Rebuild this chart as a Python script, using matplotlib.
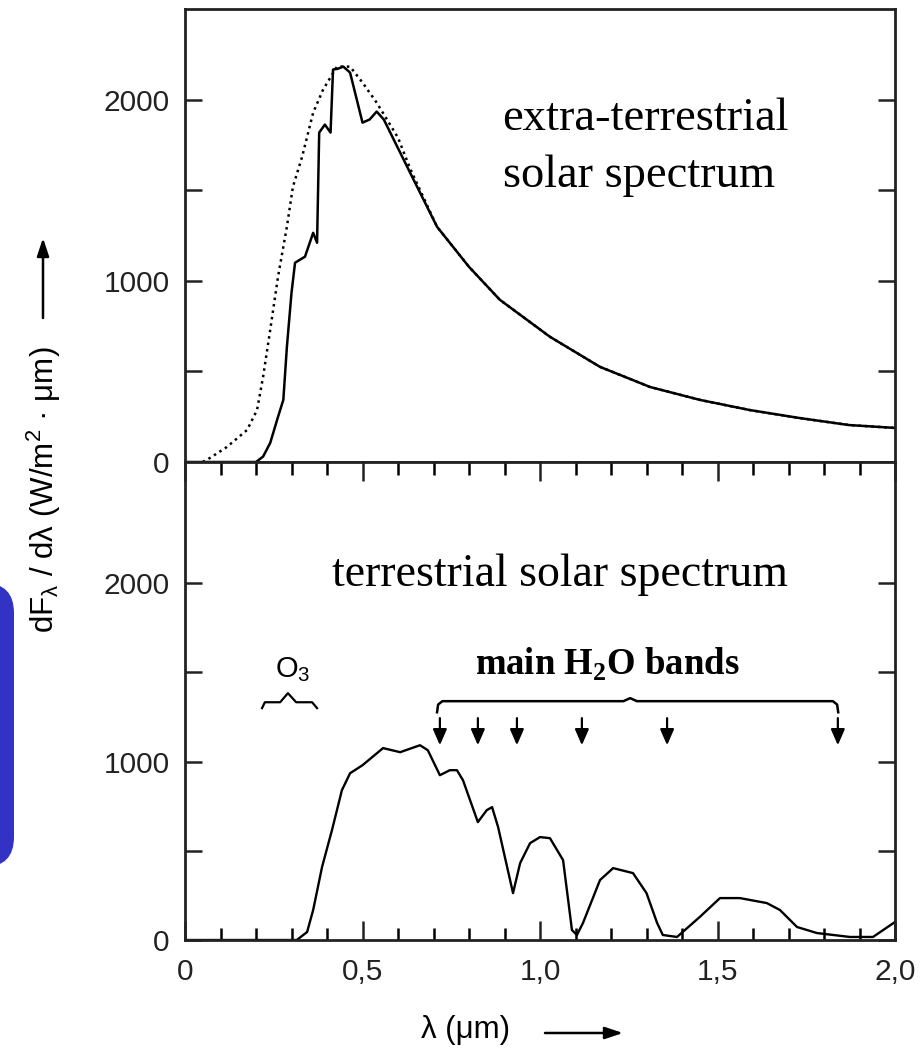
import matplotlib
matplotlib.use("Agg")
import matplotlib.pyplot as plt
from matplotlib.patches import FancyBboxPatch
from matplotlib.transforms import IdentityTransform

plt.rcParams['font.family'] = ['Liberation Sans', 'DejaVu Sans']
plt.rcParams['mathtext.fontset'] = 'custom'
plt.rcParams['mathtext.rm'] = 'Liberation Serif'
plt.rcParams['mathtext.bf'] = 'Liberation Serif:bold'
plt.rcParams['mathtext.sf'] = 'Liberation Sans'

# --- extra-terrestrial spectrum (solid) ---
lam_et = [0.0, 0.10, 0.20, 0.22, 0.24, 0.262, 0.277, 0.287, 0.30, 0.31, 0.338, 0.361,
          0.372, 0.378, 0.394, 0.41, 0.417, 0.43, 0.446, 0.465, 0.50, 0.52, 0.54, 0.56,
          0.634, 0.71, 0.80, 0.887, 1.028, 1.169, 1.31, 1.45, 1.59, 1.73, 1.87, 2.0]
F_et = [0, 0, 0, 30, 105, 249, 343, 635, 933, 1100, 1133, 1265,
        1210, 1818, 1862, 1818, 2166, 2170, 2182, 2149, 1873, 1890, 1934, 1890,
        1597, 1298, 1077, 895, 691, 525, 414, 343, 287, 243, 204, 188]

# --- black body reference (dotted) ---
lam_bb = [0.05, 0.07, 0.118, 0.175, 0.203, 0.22, 0.24, 0.262, 0.287, 0.304, 0.33,
          0.361, 0.389, 0.428, 0.465, 0.50, 0.54, 0.60, 0.634, 0.71, 0.80, 0.887,
          1.028, 1.169, 1.31, 1.45, 1.59, 1.73, 1.87, 2.0]
F_bb = [0, 22, 83, 177, 287, 470, 729, 1022, 1298, 1519, 1685,
        1928, 2055, 2182, 2182, 2094, 1983, 1790, 1620, 1298, 1077, 895,
        691, 525, 414, 343, 287, 243, 204, 188]

# --- terrestrial spectrum ---
lam_t = [0.0, 0.30, 0.315, 0.344, 0.361, 0.386, 0.414, 0.442, 0.465, 0.50, 0.558,
         0.606, 0.662, 0.684, 0.718, 0.746, 0.766, 0.783, 0.825, 0.85, 0.865, 0.882,
         0.924, 0.944, 0.972, 1.0, 1.028, 1.065, 1.09, 1.104, 1.121, 1.169, 1.206,
         1.262, 1.30, 1.33, 1.346, 1.386, 1.45, 1.507, 1.563, 1.639, 1.676, 1.724,
         1.78, 1.873, 1.938, 2.0]
F_t = [0, 0, 0, 45, 168, 409, 616, 840, 935, 980, 1076,
       1053, 1092, 1064, 924, 952, 952, 896, 661, 728, 745, 633,
       263, 431, 543, 577, 571, 448, 56, 28, 95, 336, 403,
       375, 263, 95, 28, 17, 129, 235, 235, 207, 168, 73,
       39, 17, 17, 101]

# H2O band positions (arrows) and brace shapes
h2o_bands = [0.718, 0.825, 0.935, 1.118, 1.358, 1.839]
h2o_brace_x = [0.71, 0.713, 0.725, 1.235, 1.254, 1.273, 1.825, 1.837, 1.84]
h2o_brace_y = [1277, 1320, 1339, 1339, 1356, 1339, 1339, 1320, 1277]
o3_brace_x = [0.217, 0.225, 0.268, 0.29, 0.313, 0.358, 0.372]
o3_brace_y = [1300, 1333, 1333, 1384, 1333, 1333, 1300]

x_ticks = [0, 0.5, 1.0, 1.5, 2.0]
x_ticklabels = ['0', '0,5', '1,0', '1,5', '2,0']

W, H = 922, 1048
fig = plt.figure(figsize=(W / 100, H / 100), dpi=100)

left, right = 185, 895
ax1 = fig.add_axes([left / W, 1 - 462 / H, (right - left) / W, 453 / H])
ax2 = fig.add_axes([left / W, 1 - 940 / H, (right - left) / W, 478 / H])

for ax in (ax1, ax2):
    ax.set_xlim(0, 2.0)
    for s in ax.spines.values():
        s.set_linewidth(2.0)
        s.set_color('#222222')
    ax.tick_params(axis='y', which='both', direction='in', left=True, right=True,
                   length=12, width=1.8, labelsize=21.5, pad=11, colors='#222222')

ax1.set_ylim(0, 2500)
ax2.set_ylim(0, 2680)
ax1.set_yticks([0, 1000, 2000])
ax1.set_yticks([500, 1500], minor=True)
ax2.set_yticks([0, 1000, 2000])
ax2.set_yticks([500, 1500], minor=True)
ax1.set_xticks([])
ax1.tick_params(axis='x', which='both', bottom=False, labelbottom=False)

ax2.set_xticks(x_ticks)
ax2.set_xticklabels(x_ticklabels)
ax2.set_xticks([i / 10 for i in range(21)], minor=True)
ax2.tick_params(axis='x', which='major', direction='in', top=True, bottom=True,
                length=14, width=1.8, labelsize=21.5, pad=13, colors='#222222')
ax2.tick_params(axis='x', which='minor', direction='in', top=True, bottom=True,
                length=9, width=1.8)

# curves
ax1.plot(lam_et, F_et, color='black', lw=1.8)
ax1.plot(lam_bb, F_bb, color='black', lw=1.8, linestyle=(0, (1, 1.6)))
ax2.plot(lam_t, F_t, color='black', lw=1.7)

# texts
serif = ['Liberation Serif', 'DejaVu Serif']
ax1.text(0.893, 1832, 'extra-terrestrial', family=serif, fontsize=33.5, va='baseline')
ax1.text(0.895, 1518, 'solar spectrum', family=serif, fontsize=33.5, va='baseline')
ax2.text(0.414, 1985, 'terrestrial solar spectrum', family=serif, fontsize=33,
         va='baseline')
ax2.text(0.817, 1486, r'main H$_\mathbf{2}$O bands', family=serif, fontsize=26.5,
         fontweight='bold', va='baseline')
ax2.text(0.254, 1475, r'O$_\mathsf{3}$', fontsize=21, va='baseline')

# braces
ax2.plot(h2o_brace_x, h2o_brace_y, color='black', lw=1.8)
ax2.plot(o3_brace_x, o3_brace_y, color='black', lw=1.6)

# band arrows
for xb in h2o_bands:
    ax2.annotate('', xy=(xb, 1092), xytext=(xb, 1244),
                 arrowprops=dict(arrowstyle='-|>,head_width=0.35,head_length=0.8',
                                 color='black', lw=1.6, mutation_scale=12,
                                 shrinkA=0, shrinkB=0))

# axis labels with arrows
fig.text(44 / W, 1 - 490 / H, r'dF$_\mathsf{λ}$ / dλ (W/m$^\mathsf{2}$ · μm)',
         rotation=90, ha='center', va='center', fontsize=22.5)
ax2.annotate('', xy=(43, H - 238), xytext=(43, H - 318), xycoords='figure pixels',
             textcoords='figure pixels', annotation_clip=False,
             arrowprops=dict(arrowstyle='-|>,head_width=0.3,head_length=0.9',
                             color='black', lw=1.8, mutation_scale=12,
                             shrinkA=0, shrinkB=0))
fig.text(421 / W, 1 - 1030 / H, 'λ (μm)', ha='left', va='center', fontsize=22.5)
ax2.annotate('', xy=(623, H - 1033), xytext=(545, H - 1033), xycoords='figure pixels',
             textcoords='figure pixels', annotation_clip=False,
             arrowprops=dict(arrowstyle='-|>,head_width=0.3,head_length=0.9',
                             color='black', lw=1.8, mutation_scale=12,
                             shrinkA=0, shrinkB=0))

# blue blob on the left edge
blob = FancyBboxPatch((-40, H - 867), 54, 284,
                      boxstyle='round,pad=0,rounding_size=30',
                      transform=IdentityTransform(), facecolor='#3232c4',
                      edgecolor='none')
fig.patches.append(blob)

fig.savefig('out.png', dpi=100)
